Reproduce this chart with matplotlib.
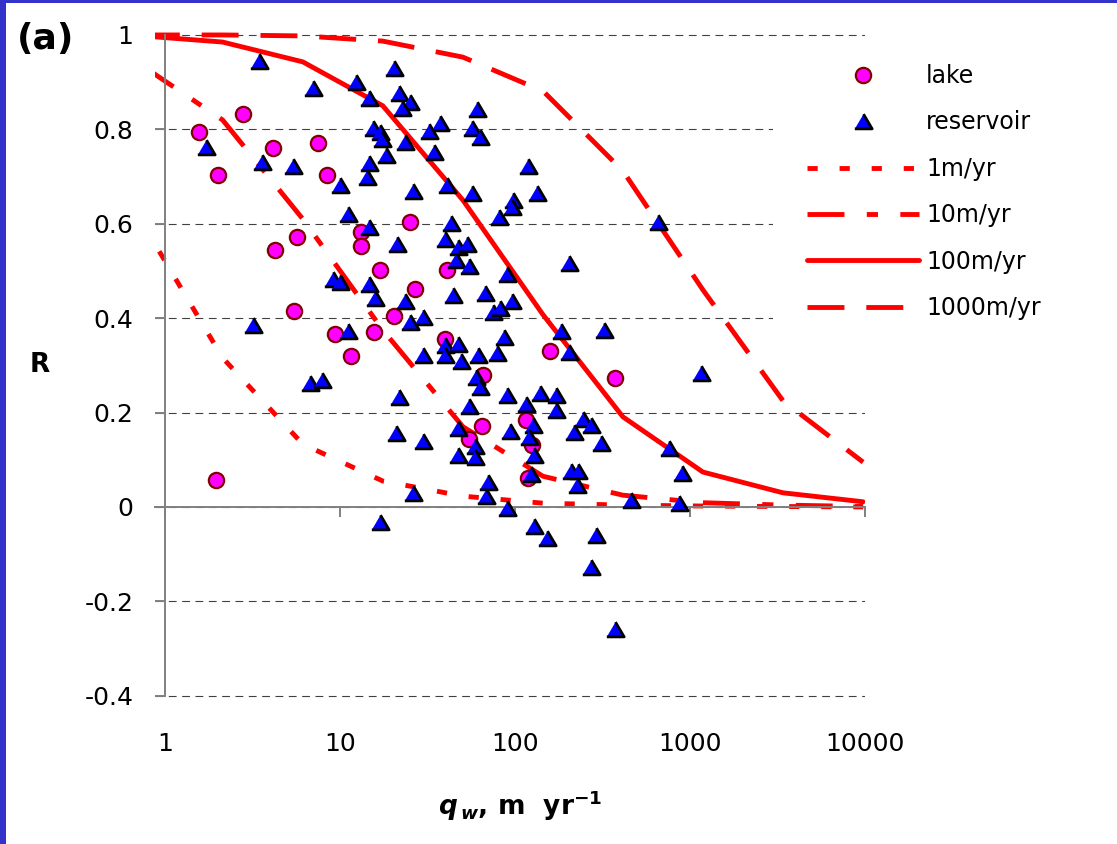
import matplotlib
matplotlib.use("Agg")
import matplotlib.pyplot as plt
import numpy as np
from matplotlib.patches import Rectangle
from matplotlib.ticker import NullLocator

plt.rcParams["font.family"] = ["DejaVu Sans"]
plt.rcParams["mathtext.fontset"] = "custom"
plt.rcParams["mathtext.it"] = "DejaVu Sans:italic:bold"
plt.rcParams["mathtext.bf"] = "DejaVu Sans:bold"
plt.rcParams["mathtext.rm"] = "DejaVu Sans:bold"

# lake points (qw m/yr, R)
lake_qw = [1.56, 2.79, 2.01, 4.14, 7.48, 8.43, 4.25, 5.68, 13.2, 13.2, 16.9, 25.1, 40.9, 26.8, 20.3,
           15.6, 9.36, 11.6, 5.46, 39.8, 65.6, 1.96, 64.8, 54.6, 158, 116, 125, 119, 373]
lake_R = [0.794, 0.833, 0.703, 0.761, 0.771, 0.703, 0.544, 0.572, 0.583, 0.553, 0.502, 0.604, 0.502, 0.462, 0.405,
          0.371, 0.367, 0.320, 0.415, 0.356, 0.280, 0.057, 0.172, 0.144, 0.331, 0.184, 0.131, 0.061, 0.273]

# reservoir points
res_qw = [3.44, 7.01, 12.3, 20.3, 14.6, 21.7, 25.1, 22.6, 60.7, 15.4,
          16.9, 17.4, 23.5, 32.3, 37.3, 56.8, 63.1, 34.5, 18.3, 14.6,
          14.3, 119, 1.71, 3.58, 5.39, 10.0, 26.1, 40.9, 56.8, 97.4,
          96.1, 134, 11.1, 14.6, 21.2, 43.1, 39.8, 47.2, 53.2, 46.0,
          54.6, 81.1, 204, 90.0, 9.12, 10.0, 14.6, 15.8, 23.5, 44.2,
          67.4, 96.1, 74.9, 82.1, 25.1, 29.8, 11.1, 183, 86.5, 3.18,
          323, 656, 29.8, 39.8, 39.8, 47.2, 49.1, 61.5, 78.9, 204,
          59.9, 63.1, 6.74, 7.89, 21.7, 54.6, 90.0, 116, 139, 172,
          172, 20.9, 29.8, 47.2, 59.1, 47.2, 59.1, 93.6, 127, 120,
          128, 123, 209, 229, 226, 245, 217, 272, 310, 1156,
          70.1, 68.3, 26.1, 90.0, 16.9, 128, 152, 290, 272, 373,
          460, 865, 900, 759]
res_R = [0.945, 0.888, 0.900, 0.930, 0.867, 0.877, 0.858, 0.845, 0.843, 0.803,
         0.794, 0.780, 0.773, 0.797, 0.814, 0.803, 0.784, 0.752, 0.746, 0.729,
         0.699, 0.722, 0.763, 0.731, 0.722, 0.682, 0.669, 0.682, 0.665, 0.650,
         0.636, 0.665, 0.621, 0.593, 0.557, 0.602, 0.568, 0.551, 0.557, 0.523,
         0.511, 0.614, 0.517, 0.494, 0.483, 0.477, 0.472, 0.443, 0.436, 0.449,
         0.453, 0.436, 0.413, 0.422, 0.392, 0.403, 0.373, 0.373, 0.360, 0.386,
         0.375, 0.604, 0.322, 0.343, 0.322, 0.345, 0.309, 0.322, 0.326, 0.328,
         0.275, 0.254, 0.263, 0.269, 0.233, 0.214, 0.237, 0.218, 0.242, 0.237,
         0.206, 0.157, 0.140, 0.167, 0.129, 0.110, 0.106, 0.161, 0.174, 0.148,
         0.110, 0.070, 0.076, 0.076, 0.047, 0.186, 0.159, 0.174, 0.136, 0.284,
         0.053, 0.023, 0.030, -0.002, -0.032, -0.040, -0.066, -0.059, -0.127, -0.258,
         0.015, 0.008, 0.072, 0.125]

# trapping curves, shared qw column
curve_qw = [0.75, 2.14, 6.15, 17.6, 50.5, 145, 414, 1186, 3400, 9750]
r_1 = [0.60, 0.316, 0.133, 0.055, 0.023, 0.008, 0.004, 0.002, 0.001, 0.0]
r_10 = [0.934, 0.82, 0.61, 0.375, 0.17, 0.065, 0.025, 0.009, 0.004, 0.001]
r_100 = [0.998, 0.985, 0.943, 0.850, 0.650, 0.407, 0.191, 0.074, 0.030, 0.011]
r_1000 = [1.0, 1.0, 0.998, 0.987, 0.953, 0.881, 0.712, 0.460, 0.225, 0.095]

x_ticks = [1, 10, 100, 1000, 10000]
x_labels = ["1", "10", "100", "1000", "10000"]
y_ticks = [-0.4, -0.2, 0, 0.2, 0.4, 0.6, 0.8, 1]
y_labels = ["-0.4", "-0.2", "0", "0.2", "0.4", "0.6", "0.8", "1"]

W, H = 1117, 844
fig = plt.figure(figsize=(W / 100, H / 100), dpi=100)
# y: 0 at 507px, 472px per unit
ax = fig.add_axes([155 / W, 1 - 700.5 / H, 710 / W, 671.2 / H])
ax.set_xscale("log")
ax.set_xlim(0.88, 10000)
ax.set_ylim(-0.41, 1.012)

gray = "#808080"
for s in ["top", "right"]:
    ax.spines[s].set_visible(False)
ax.spines["left"].set_position(("data", 1))
ax.spines["left"].set_bounds(-0.4, 1)
ax.spines["bottom"].set_position(("data", 0))
for s in ["left", "bottom"]:
    ax.spines[s].set_color(gray)
    ax.spines[s].set_linewidth(1.4)

ax.xaxis.set_minor_locator(NullLocator())
ax.set_xticks(x_ticks)
ax.tick_params(axis="x", direction="out", length=7.5, width=1.4, color=gray, labelbottom=False)
ax.set_yticks(y_ticks, labels=y_labels)
ax.tick_params(axis="y", direction="out", length=7.5, width=1.4, color=gray, pad=15, labelsize=18)
for t, lbl in zip(x_ticks, x_labels):
    ax.annotate(lbl, xy=(t, -0.4), xytext=(0, -35), textcoords="offset points",
                ha="center", va="center", fontsize=18, annotation_clip=False)

ax.set_axisbelow(True)
ax.yaxis.grid(True, color="#404040", lw=0.8, linestyle=(0, (7, 5)))

# white box behind legend hides the grid there
ax.add_patch(Rectangle((0.8704, 0.544), 0.13, 0.432, transform=ax.transAxes,
                       fc="white", ec="none", zorder=1))

l1, = ax.plot(curve_qw, r_1, color="red", lw=3.5, ls=(0, (2.1, 4.5)), dash_capstyle="butt", zorder=2)
l10, = ax.plot(curve_qw, r_10, color="red", lw=3.5, ls=(0, (7.6, 4.6, 2.3, 4.6)), dash_capstyle="butt", zorder=2)
l100, = ax.plot(curve_qw, r_100, color="red", lw=3.5, solid_capstyle="round", zorder=2)
l1000, = ax.plot(curve_qw, r_1000, color="red", lw=3.5, ls=(0, (7.6, 4.5)), dash_capstyle="butt", zorder=2)

tri = [(-1, -0.85), (1, -0.85), (0, 0.85)]
lk, = ax.plot(lake_qw, lake_R, ls="none", marker="o", ms=11, mfc="#ff00ff", mec="#800000", mew=1.6, zorder=3)
rs, = ax.plot(res_qw, res_R, ls="none", marker=tri, ms=12.5, mfc="#0000ff", mec="black", mew=2, zorder=4)

fig.legend([lk, rs, l1, l10, l100, l1000], ["lake", "reservoir", "1m/yr", "10m/yr", "100m/yr", "1000m/yr"],
           loc="upper left", bbox_to_anchor=(807 / W, 1 - 64 / H), frameon=False, fontsize=17,
           handlelength=4.74, handletextpad=0.3, labelspacing=0.95, borderpad=0, borderaxespad=0,
           numpoints=1)

fig.text(46 / W, 1 - 39 / H, "(a)", fontsize=26, fontweight="bold", ha="center", va="center")
fig.text(40 / W, 1 - 365 / H, "R", fontsize=19, fontweight="bold", ha="center", va="center")
fig.text(520 / W, 1 - 806 / H, r"$q_{\,w}$, m  yr$^{-1}$", fontsize=19, fontweight="bold",
         ha="center", va="center")

# blue frame on left and top edge
fig.patches.append(Rectangle((0, 0), 6 / W, 1, transform=fig.transFigure, fc="#3333cc", ec="none"))
fig.patches.append(Rectangle((0, 1 - 3 / H), 1, 3 / H, transform=fig.transFigure, fc="#3333cc", ec="none"))

fig.savefig("out.png", dpi=100)
